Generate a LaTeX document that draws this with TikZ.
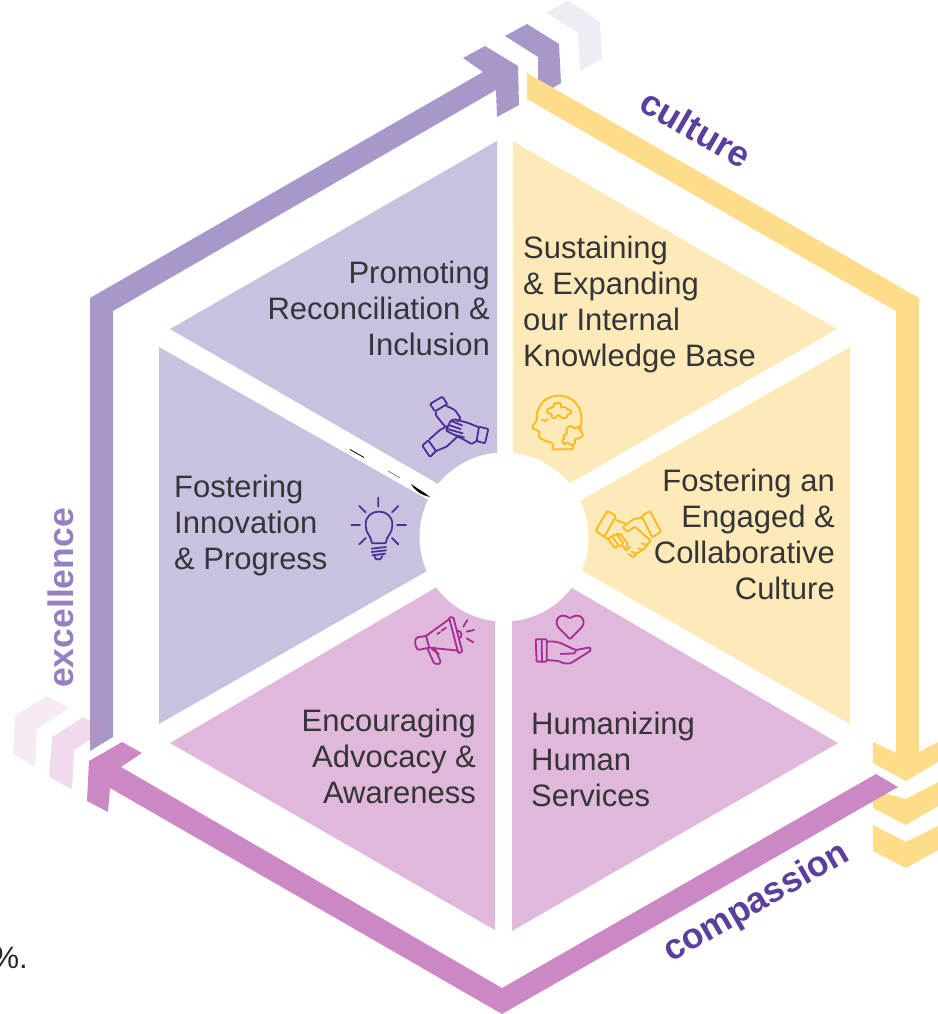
\documentclass[tikz,border=0pt]{standalone}
\usepackage{fontspec}
\setmainfont{Liberation Sans}
\definecolor{cPurple}{HTML}{A897C9}
\definecolor{cYellow}{HTML}{FEDC89}
\definecolor{cPink}{HTML}{CC88C4}
\definecolor{wLilac}{HTML}{CAC1E0}
\definecolor{wYellow}{HTML}{FEEAB8}
\definecolor{wPink}{HTML}{E0B8DC}
\definecolor{cPale}{HTML}{EEEDF5}
\definecolor{cText}{HTML}{353537}
\definecolor{cLabel}{HTML}{5A3F9C}
\definecolor{cLabelB}{HTML}{9680C2}
\definecolor{iViolet}{HTML}{4B2E96}
\definecolor{iGold}{HTML}{FDB913}
\definecolor{iMag}{HTML}{A52C92}
\tikzset{
  body/.style={text=cText,inner sep=0pt,font=\fontsize{31}{36}\selectfont},
  bodyL/.style={body,align=left,anchor=north west},
  bodyR/.style={body,align=right,anchor=north east},
  ringlabel/.style={text=cLabel,inner sep=0pt,font=\fontsize{36}{40}\selectfont\bfseries},
  iconline/.style={line width=1.8pt,line join=round,line cap=round,rounded corners=1pt},
  zoomed/.style={shift={(340,380)},x=0.3333pt,y=-0.3333pt},
}
\begin{document}
\begin{tikzpicture}[x=1pt,y=-1pt]
\useasboundingbox (0,0) rectangle (937,1014);
% wedges
\fill[wYellow] (513,141) -- (837,329) -- (513,516) -- cycle;
\fill[wYellow] (850,347) -- (850,724) -- (520,535) -- cycle;
\fill[wPink] (512,931) -- (838,743) -- (512,553) -- cycle;
\fill[wPink] (495,930) -- (170,743) -- (495,553) -- cycle;
\fill[wLilac] (159,347) -- (159,724) -- (490,535) -- cycle;
\fill[wLilac] (497,141) -- (170,329) -- (497,518) -- cycle;
\fill[white] (504,537) circle (84.5);
% stray marks
\draw[black,line width=0.8pt] (350,449.5) -- (364,457.5);
\draw[black!70,line width=0.5pt] (388,471) -- (400,478);
\fill[black] (411,484) .. controls (418,489) and (424,492) .. (430,497) .. controls (421,495) and (415,491) .. cycle;
% pale chevrons top
\fill[cPale] (546,13) -- (568,0) -- (600,22) -- (602,59) -- (580,71) -- (578,33) -- cycle;
\fill[cPurple] (505,36) -- (527,24) -- (559,44) -- (561,83) -- (538,97) -- (538,57) -- cycle;
% yellow chevrons and band
\fill[cYellow] (873,825) -- (906,842) -- (940,825) -- (940,849) -- (906,868) -- (873,851) -- cycle;
\fill[cYellow] (873,790) -- (906,799) -- (940,781) -- (940,805) -- (906,825) -- (873,808) -- cycle;
\fill[cYellow] (527,73) -- (919,298) -- (919,752) -- (940,741) -- (940,761) -- (906,781) -- (873,763) -- (873,742) -- (896,753) -- (896,311) -- (527,99) -- cycle;
% purple band
\fill[cPurple] (90,751) -- (90,298) -- (483,72) -- (463,58) -- (485,46) -- (518,66) -- (519,105) -- (497,117) -- (496,90) -- (113,311) -- (113,737) -- cycle;
% pink chevrons left
\fill[cPink,opacity=0.17] (15,715) -- (47,696) -- (69,708) -- (37,729) -- (35,767) -- (13,754) -- cycle;
\fill[cPink,opacity=0.3] (52,737) -- (83,717) -- (106,730) -- (74,750) -- (72,789) -- (49,777) -- cycle;
% pink band
\fill[cPink] (898,787) -- (502,1014) -- (110,788) -- (108,812) -- (87,801) -- (89,761) -- (122,742) -- (142,753) -- (121,767) -- (502,988) -- (876,774) -- cycle;
% ring labels
\node[ringlabel,rotate=-30] (culture) at (696,128) {culture};
\node[ringlabel,rotate=30,font=\fontsize{35.5}{40}\selectfont\bfseries] (compassion) at (757,903) {compassion};
\node[ringlabel,text=cLabelB,rotate=90,font=\fontsize{35.5}{40}\selectfont\bfseries] (excellence) at (61,598) {excellence};
% body labels
\node[bodyL] (know) at (523,236) {Sustaining\\\& Expanding\\our Internal\\Knowledge Base};
\node[bodyR] (recon) at (490,261) {Promoting\\Reconciliation \&\\Inclusion};
\node[bodyR] (engage) at (835,469) {Fostering an\\Engaged \&\\Collaborative\\Culture};
\node[bodyL] (innov) at (174,475) {Fostering\\Innovation\\\& Progress};
\node[bodyR] (advoc) at (476,709) {Encouraging\\Advocacy \&\\Awareness};
\node[bodyL] (human) at (531,712) {Humanizing\\Human\\Services};
\node[text=black!85,inner sep=0pt,anchor=base east,font=\fontsize{31}{36}\selectfont] (pct) at (28,968) {\%.};
% icon: light bulb
\begin{scope}[zoomed,draw=iViolet,iconline]
\draw (115,353)--(115,380) (58,378)--(77,397) (175,378)--(156,397) (34,435)--(60,435) (171,435)--(198,435) (58,493)--(77,474) (175,493)--(156,474);
\draw (95,490) .. controls (95,470) and (77,460) .. (77,435) .. controls (77,410) and (95,395) .. (117,395) .. controls (139,395) and (157,410) .. (157,435) .. controls (157,460) and (138,470) .. (138,490) -- cycle;
\draw (95,506)--(138,501) (95,516)--(138,511) (97,526)--(136,521);
\draw (104,530) .. controls (106,542) and (124,542) .. (127,528);
\end{scope}
% icon: hands
\begin{scope}[zoomed,draw=iViolet,iconline]
\draw (270,72)--(307,50)--(322,72)--(285,94)--cycle;
\draw (318,77)--(345,90)--(362,115)--(352,124);
\draw (288,97)--(287,105)--(317,142);
\draw (417,140)--(445,147)--(435,190)--(410,183)--cycle;
\draw (417,142)--(385,129)--(345,118)--(332,122)--(318,152)--(370,178)--(395,192)--(411,182);
\draw (332,122)--(366,136) (326,135)--(362,147) (322,147)--(368,160) (345,165)--(372,172);
\draw (247,197)--(265,181)--(288,213)--(270,231)--cycle;
\draw (268,178)--(300,150)--(322,138);
\draw (288,213)--(320,200)--(352,170);
\end{scope}
% icon: head with puzzle
\begin{scope}[zoomed,draw=iGold,iconline]
\draw plot[smooth] coordinates {(637,208) (636,190) (610,180) (598,170) (597,155) (578,142) (590,120) (592,95) (615,60) (655,47) (695,58) (720,90) (724,130) (716,150)};
\draw (637,208)--(700,208)--(700,197);
\draw (606,120) .. controls (612,124) and (618,124) .. (624,118);
\draw (635,82)--(642,82)--(640,72)--(655,68)--(664,72)--(662,82)--(680,82)--(680,90)--(692,88)--(694,100)--(682,104)--(680,114)--(662,114)--(660,106)--(650,106)--(648,114)--(635,114)--(636,102)--(622,100)--(622,88)--cycle;
\draw (668,168)--(682,160)--(678,148)--(692,136)--(703,146)--(718,138)--(724,155)--(730,165)--(718,176)--(704,176)--(706,190)--(692,196)--(682,186)--(672,194)--(666,180)--(675,176)--cycle;
\end{scope}
% icon: handshake
\begin{scope}[zoomed,draw=iGold,iconline]
\draw (767,452)--(802,393)--(828,408)--(793,470)--cycle;
\draw (905,408)--(930,393)--(963,455)--(937,472)--cycle;
\draw (828,420)--(855,430);
\draw (905,413)--(880,418)--(848,442)--(862,455)--(885,440)--(932,482)--(922,495)--(905,490);
\draw (922,495)--(908,510)--(895,505);
\draw (908,510)--(888,522)--(875,515);
\draw (888,522)--(880,532)--(865,522);
\draw (793,470)--(805,478);
\draw (805,478)--(815,468)--(835,495)--(825,505)--cycle;
\draw (818,468)--(830,462)--(850,490)--(838,500);
\draw (830,462)--(842,462)--(865,495)--(852,505);
\draw (845,495)--(860,512)--(870,500);
\end{scope}
% icon: megaphone
\begin{scope}[zoomed,draw=iMag,iconline]
\draw (327,712)--(340,712)--(367,815)--(355,820)--cycle;
\draw (327,718) -- (258,768) -- (232,772) .. controls (222,780) and (225,800) .. (235,810) -- (268,803) -- (355,812);
\draw (258,768)--(268,803);
\draw (262,805)--(282,850)--(297,853)--(302,845)--(283,802);
\draw (276,808)--(297,822);
\draw (352,752) .. controls (368,752) and (368,772) .. (357,775);
\draw (292,762)--(300,757) (305,752)--(318,743);
\draw (370,740)--(382,720) (380,755)--(402,750) (380,775)--(400,787);
\end{scope}
% icon: hand and heart
\begin{scope}[zoomed,draw=iMag,iconline]
\draw (690,778) -- (655,742) .. controls (642,720) and (660,695) .. (690,715) .. controls (720,695) and (740,720) .. (725,742) -- cycle;
\draw (587,778)--(620,778)--(620,845)--(590,845)--cycle;
\draw (605,778)--(606,845);
\draw (620,785) .. controls (650,782) and (665,790) .. (695,805) -- (708,810) -- (705,820) -- (662,822);
\draw (708,810)--(750,802)--(752,812)--(700,845) .. controls (685,855) and (670,850) .. (655,843)--(620,840);
\end{scope}
\end{tikzpicture}
\end{document}
